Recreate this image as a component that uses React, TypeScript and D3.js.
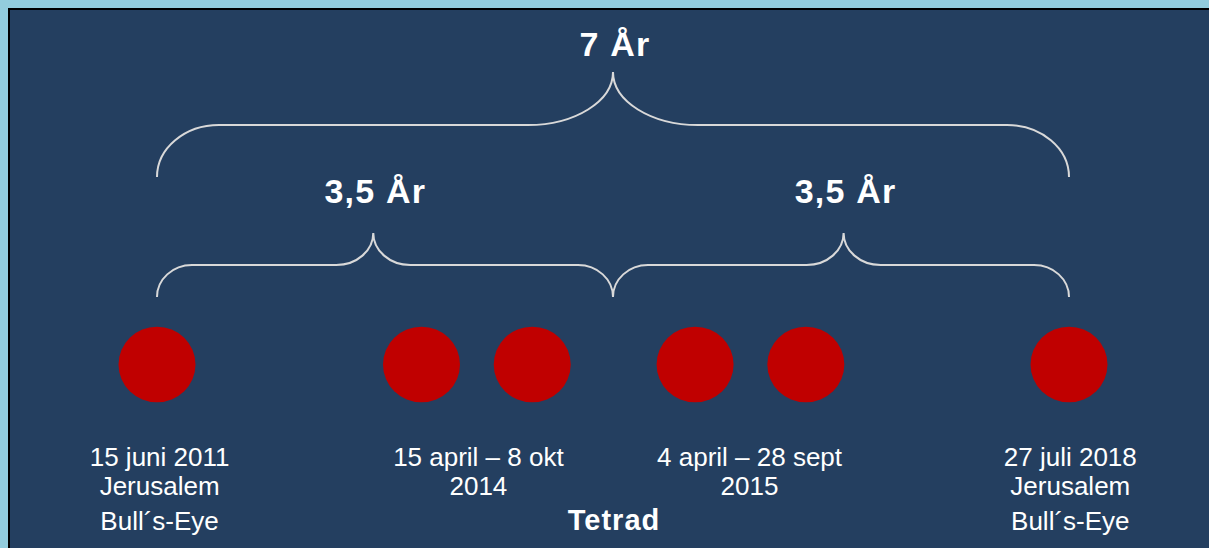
import React from 'react';
import * as d3 from 'd3';

const width = 1209;
const height = 548;

// schematic position of each mark, in years along the 7-year span
const eclipseYears = [0, 2.03, 2.88, 4.13, 4.98, 7];

const spans = [
  { from: 0, to: 7, tip: 3.5, label: '7 År', level: 0 },
  { from: 0, to: 3.5, tip: 1.66, label: '3,5 År', level: 1 },
  { from: 3.5, to: 7, tip: 5.27, label: '3,5 År', level: 1 }
];

const labelGroups = [
  { at: 0.02, lines: ['15 juni 2011', 'Jerusalem', 'Bull´s-Eye'] },
  { at: 2.467, lines: ['15 april – 8 okt', '2014'] },
  { at: 4.548, lines: ['4 april – 28 sept', '2015'] },
  { at: 7.01, lines: ['27 juli 2018', 'Jerusalem', 'Bull´s-Eye'] }
];

const groupTitle = { at: 3.5, text: 'Tetrad' };

const levels = [
  { yEnd: 177, yMid: 125, yTip: 72, yLabel: 56, rEnd: 62, rTip: 85 },
  { yEnd: 297, yMid: 265, yTip: 233, yLabel: 203, rEnd: 35, rTip: 37 }
];

const lineY = [466, 495, 530];
const font = '"Liberation Sans", Arial, sans-serif';
const K = 0.5523;

const bracePath = (x1, x2, xm, lv) => {
  const { yEnd, yMid, yTip, rEnd, rTip } = lv;
  const hE = yEnd - yMid;
  const hT = yMid - yTip;
  const p = d3.path();
  p.moveTo(x1, yEnd);
  p.bezierCurveTo(x1, yEnd - K * hE, x1 + rEnd - K * rEnd, yMid, x1 + rEnd, yMid);
  p.lineTo(xm - rTip, yMid);
  p.bezierCurveTo(xm - rTip + K * rTip, yMid, xm, yTip + K * hT, xm, yTip);
  p.bezierCurveTo(xm, yTip + K * hT, xm + rTip - K * rTip, yMid, xm + rTip, yMid);
  p.lineTo(x2 - rEnd, yMid);
  p.bezierCurveTo(x2 - rEnd + K * rEnd, yMid, x2, yEnd - K * hE, x2, yEnd);
  return p.toString();
};

export default function App() {
  const x = d3.scaleLinear().domain([0, 7]).range([157, 1069]);

  return (
    <svg
      width={width}
      height={height}
      style={{ position: 'fixed', left: 0, top: 0, display: 'block' }}
    >
      <rect x={0} y={0} width={width} height={height} fill="#93CDDD" />
      <rect x={9} y={9} width={1300} height={700} fill="#243F60" stroke="#000" strokeWidth={2} />

      {/* braces */}
      {spans.map((s, i) => {
        const lv = levels[s.level];
        return (
          <g key={i}>
            <path
              d={bracePath(x(s.from), x(s.to), x(s.tip), lv)}
              fill="none"
              stroke="#D9D9D9"
              strokeWidth={2}
            />
            <text
              x={x(s.tip) + 2}
              y={lv.yLabel}
              textAnchor="middle"
              fontFamily={font}
              fontWeight="bold"
              fontSize={34}
              letterSpacing={1.2}
              fill="#fff"
            >
              {s.label}
            </text>
          </g>
        );
      })}

      {/* eclipses */}
      {eclipseYears.map((d, i) => (
        <ellipse key={i} cx={x(d)} cy={364.5} rx={38.5} ry={37.8} fill="#C00000" />
      ))}

      {/* labels */}
      {labelGroups.map((g, i) => (
        <g key={i}>
          {g.lines.map((t, j) => (
            <text
              key={j}
              x={x(g.at)}
              y={lineY[j]}
              textAnchor="middle"
              fontFamily={font}
              fontSize={26}
              fill="#fff"
            >
              {t}
            </text>
          ))}
        </g>
      ))}

      <text
        x={x(groupTitle.at) + 1}
        y={530}
        textAnchor="middle"
        fontFamily={font}
        fontWeight="bold"
        fontSize={29}
        letterSpacing={1}
        fill="#fff"
      >
        {groupTitle.text}
      </text>
    </svg>
  );
}
